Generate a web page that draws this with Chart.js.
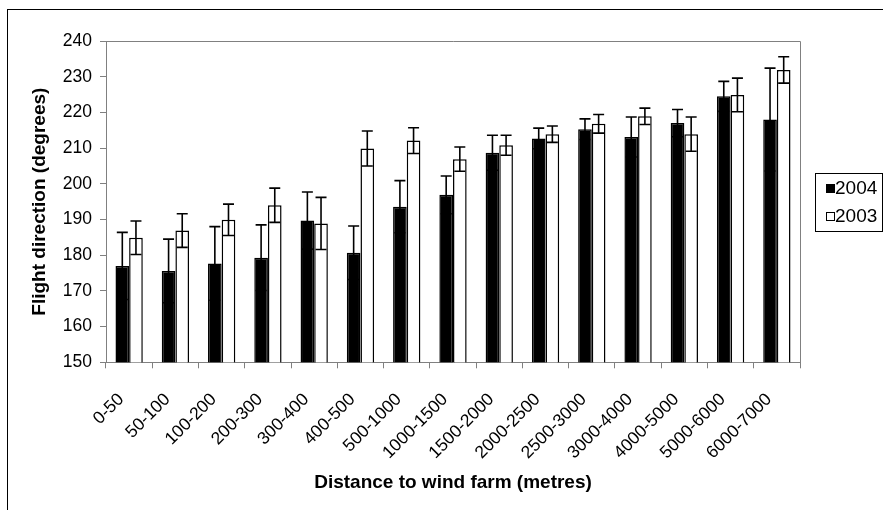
<!DOCTYPE html>
<html lang="en">
<head>
<meta charset="UTF-8">
<title>Flight direction vs distance to wind farm</title>
<script src="https://cdn.jsdelivr.net/npm/chart.js"></script>
<style>
  html, body { margin: 0; padding: 0; background: #fff; overflow: hidden; }
  #frame { position: absolute; left: 7px; top: 9px; width: 1000px; height: 1000px;
           border-left: 1px solid #000; border-top: 1px solid #000; }
  #wrap { position: absolute; left: 0; top: 0; width: 883px; height: 510px; }
</style>
</head>
<body>
<div id="frame"></div>
<div id="wrap"><canvas id="chartCanvas"></canvas></div>

<script>
    const categories = ['0-50', '50-100', '100-200', '200-300', '300-400', '400-500', '500-1000',
        '1000-1500', '1500-2000', '2000-2500', '2500-3000', '3000-4000', '4000-5000', '5000-6000', '6000-7000'];

    // mean flight direction and error (degrees)
    const values2004 = [177.0, 175.6, 177.7, 179.3, 189.7, 180.7, 193.6, 196.9, 208.7, 212.7, 215.3, 213.1, 217.0, 224.5, 218.0];
    const errors2004 = [9.4, 8.9, 10.3, 9.2, 8.0, 7.5, 7.3, 5.3, 4.9, 2.9, 2.9, 5.6, 3.8, 4.2, 14.4];
    const values2003 = [184.9, 186.9, 189.9, 194.0, 188.9, 209.9, 212.1, 206.9, 210.8, 213.9, 216.8, 218.9, 213.9, 224.9, 231.9];
    const errors2003 = [4.7, 4.7, 4.4, 4.8, 7.3, 4.9, 3.6, 3.4, 2.8, 2.3, 2.6, 2.3, 4.8, 4.7, 3.7];

    const yTicks = { min: 150, max: 240, step: 10 };
    const FONT = 'Arial, "Liberation Sans", sans-serif';

    // error bars drawn on top of the bars
    const errorBars = {
        id: 'errorBars',
        afterDatasetsDraw(chart) {
            const ctx = chart.ctx;
            const y = chart.scales.y;
            chart.data.datasets.forEach((ds, i) => {
                const meta = chart.getDatasetMeta(i);
                meta.data.forEach((bar, j) => {
                    const v = ds.data[j], e = ds.errors[j];
                    const top = y.getPixelForValue(v + e);
                    const bot = y.getPixelForValue(v - e);
                    ctx.save();
                    ctx.strokeStyle = '#000';
                    ctx.lineWidth = 1.6;
                    ctx.beginPath();
                    ctx.moveTo(bar.x, top); ctx.lineTo(bar.x, bot);
                    ctx.moveTo(bar.x - 5.5, top); ctx.lineTo(bar.x + 5.5, top);
                    ctx.moveTo(bar.x - 5.5, bot); ctx.lineTo(bar.x + 5.5, bot);
                    ctx.stroke();
                    ctx.restore();
                });
            });
        }
    };

    // grey plot frame (top + right) and boxed legend
    const plotFrame = {
        id: 'plotFrame',
        afterDraw(chart) {
            const ctx = chart.ctx;
            const a = chart.chartArea;
            ctx.save();
            ctx.strokeStyle = '#808080';
            ctx.lineWidth = 1;
            ctx.beginPath();
            ctx.moveTo(a.left, Math.round(a.top) + 0.5);
            ctx.lineTo(Math.round(a.right) + 0.5, Math.round(a.top) + 0.5);
            ctx.lineTo(Math.round(a.right) + 0.5, a.bottom);
            ctx.stroke();

            // legend
            ctx.strokeStyle = '#000';
            ctx.strokeRect(815.5, 173.5, 67, 58);
            ctx.font = '19px ' + FONT;
            ctx.textBaseline = 'middle';
            chart.data.datasets.forEach((ds, i) => {
                const cy = 188.5 + i * 28;
                ctx.fillStyle = ds.backgroundColor;
                ctx.fillRect(826.5, cy - 4, 8, 8);
                ctx.strokeRect(826.5, cy - 4, 8, 8);
                ctx.fillStyle = '#000';
                ctx.fillText(ds.label, 835, cy);
            });
            ctx.restore();
        }
    };

    const ctx = document.getElementById('chartCanvas').getContext('2d');
    new Chart(ctx, {
        type: 'bar',
        data: {
            labels: categories,
            datasets: [
                { label: '2004', data: values2004, errors: errors2004, backgroundColor: '#000000',
                  borderColor: '#000', borderWidth: 1.5 },
                { label: '2003', data: values2003, errors: errors2003, backgroundColor: '#ffffff',
                  borderColor: '#000', borderWidth: 1.5 }
            ]
        },
        options: {
            responsive: true,
            maintainAspectRatio: false,
            animation: false,
            devicePixelRatio: 1,
            categoryPercentage: 0.59,
            barPercentage: 1.0,
            layout: { padding: { left: 0, top: 41, right: 83, bottom: 0 } },
            plugins: { legend: { display: false }, tooltip: { enabled: false } },
            scales: {
                x: {
                    grid: { drawOnChartArea: false, offset: true, color: '#808080', tickLength: 6 },
                    border: { color: '#808080' },
                    ticks: { color: '#000', font: { family: FONT, size: 17.5 }, maxRotation: 45, minRotation: 45,
                             autoSkip: false, padding: 21, labelOffset: -8 },
                    title: { display: true, text: 'Distance to wind farm (metres)', color: '#000',
                             font: { family: FONT, size: 19, weight: 'bold' }, padding: { top: 0, bottom: 16 } },
                    afterFit(s) { s.height = 510 - 362.3; }
                },
                y: {
                    min: yTicks.min, max: yTicks.max,
                    grid: { drawOnChartArea: false, color: '#808080', tickLength: 6 },
                    border: { color: '#808080' },
                    ticks: { stepSize: yTicks.step, color: '#000', font: { family: FONT, size: 17.5 }, padding: 8 },
                    title: { display: true, text: 'Flight direction (degrees)', color: '#000',
                             font: { family: FONT, size: 19, weight: 'bold' }, padding: { top: 28, bottom: 0 } },
                    afterFit(s) { s.width = 106; }
                }
            }
        },
        plugins: [errorBars, plotFrame]
    });
</script>
</body>
</html>
